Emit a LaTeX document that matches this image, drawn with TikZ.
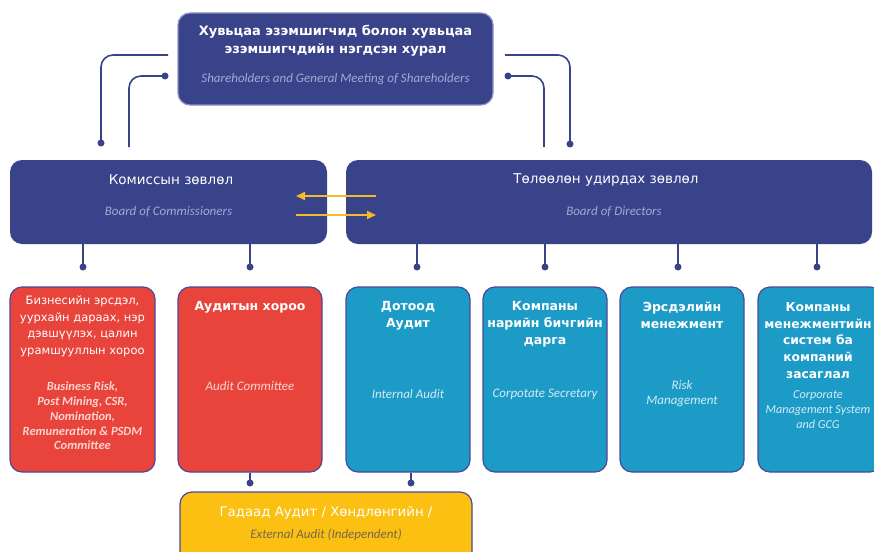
\documentclass[tikz,border=0pt]{standalone}
\usepackage{fontspec}
\setmainfont{DejaVu Sans}
\newfontfamily\engfont{Carlito}
\usetikzlibrary{arrows.meta}

\definecolor{navy}{HTML}{39438A}
\definecolor{navyedge}{HTML}{8C92C4}
\definecolor{boxedge}{HTML}{4B4996}
\definecolor{redbox}{HTML}{E9443B}
\definecolor{tealbox}{HTML}{1C9BC7}
\definecolor{yellowbox}{HTML}{FBC012}
\definecolor{arrowgold}{HTML}{F3BB2C}
\definecolor{engnavy}{HTML}{A3A9D3}
\definecolor{engred}{HTML}{FAD4D0}
\definecolor{engteal}{HTML}{D2ECF6}
\definecolor{engyellow}{HTML}{76684A}

\begin{document}
\begin{tikzpicture}[x=1pt, y=-1pt,
        panel/.style={rounded corners=12pt, inner sep=0pt},
        title/.style={text=white, align=center, inner sep=0pt, font=\bfseries\fontsize{12.5}{17}\selectfont},
        plain/.style={text=white, align=center, inner sep=0pt, font=\fontsize{13.5}{17}\selectfont},
        eng/.style={align=center, inner sep=0pt, font=\engfont\itshape\fontsize{13}{14.8}\selectfont},
        link/.style={draw=navy, line width=1.6pt, rounded corners=12pt},
        dot/.style={circle, fill=navy, inner sep=0pt, minimum size=7pt},
        flow/.style={draw=arrowgold, line width=1.8pt, -{Triangle[length=9pt, width=8pt]}}]
        \useasboundingbox (0,0) rectangle (874,551);
        \clip (0,0) rectangle (874,551);

        % shareholders
        \node[panel, fill=navy, draw=navyedge, line width=1.2pt, minimum width=315pt, minimum height=92pt] (meet) at (335.5,59) {};
        \node[title, font=\bfseries\fontsize{13}{18}\selectfont] (meetmn) at (335.5,41) {Хувьцаа эзэмшигчид болон хувьцаа\\эзэмшигчдийн нэгдсэн хурал};
        \node[eng, text=engnavy] (meeten) at (335.5,79) {Shareholders and General Meeting of Shareholders};

        % boards
        \node[panel, fill=navy, minimum width=317pt, minimum height=84pt] (comm) at (168.5,202) {};
        \node[plain] (commmn) at (171,180) {Комиссын зөвлөл};
        \node[eng, text=engnavy] (commen) at (168.5,212) {Board of Commissioners};
        \node[panel, fill=navy, minimum width=526pt, minimum height=84pt] (dir) at (609,202) {};
        \node[plain] (dirmn) at (606,180) {Төлөөлөн удирдах зөвлөл};
        \node[eng, text=engnavy] (diren) at (614,212) {Board of Directors};

        % committees and units
        \node[panel, fill=redbox, draw=boxedge, line width=1.2pt, minimum width=145pt, minimum height=185pt] (risk) at (82.5,379.5) {};
        \node[plain, font=\fontsize{11.5}{16.5}\selectfont] (riskmn) at (82.5,326.5) {Бизнесийн эрсдэл,\\уурхайн дараах, нэр\\дэвшүүлэх, цалин\\урамшууллын хороо};
        \node[eng, text=engred, font=\engfont\bfseries\itshape\fontsize{12.5}{14.8}\selectfont] (risken) at (82.5,416) {Business Risk,\\Post Mining, CSR,\\Nomination,\\Remuneration \& PSDM\\Committee};

        \node[panel, fill=redbox, draw=boxedge, line width=1.2pt, minimum width=144pt, minimum height=185pt] (audc) at (250,379.5) {};
        \node[title] (audcmn) at (250,307) {Аудитын хороо};
        \node[eng, text=engred] (audcen) at (250,386) {Audit Committee};

        \node[panel, fill=tealbox, draw=boxedge, line width=1.2pt, minimum width=124pt, minimum height=185pt] (inaud) at (408,379.5) {};
        \node[title] (inaudmn) at (408,315.5) {Дотоод\\Аудит};
        \node[eng, text=engteal] (inauden) at (408,394) {Internal Audit};

        \node[panel, fill=tealbox, draw=boxedge, line width=1.2pt, minimum width=124pt, minimum height=185pt] (secr) at (545,379.5) {};
        \node[title] (secrmn) at (545,324) {Компаны\\нарийн бичгийн\\дарга};
        \node[eng, text=engteal] (secren) at (545,394) {Corpotate Secretary};

        \node[panel, fill=tealbox, draw=boxedge, line width=1.2pt, minimum width=124pt, minimum height=185pt] (rman) at (682,379.5) {};
        \node[title] (rmanmn) at (682,315.5) {Эрсдэлийн\\менежмент};
        \node[eng, text=engteal] (rmanen) at (682,393.5) {Risk\\Management};

        \node[panel, fill=tealbox, draw=boxedge, line width=1.2pt, minimum width=124pt, minimum height=185pt] (gcg) at (820,379.5) {};
        \node[title, font=\bfseries\fontsize{12.3}{16.75}\selectfont] (gcgmn) at (818,340.5) {Компаны\\менежментийн\\систем ба\\компаний\\засаглал};
        \node[eng, text=engteal, font=\engfont\itshape\fontsize{12.2}{14.8}\selectfont] (gcgen) at (818,409.5) {Corporate\\Management System\\and GCG};

        % external audit
        \node[panel, fill=yellowbox, draw=boxedge, line width=1.2pt, minimum width=292pt, minimum height=80pt] (ext) at (326,532) {};
        \node[plain, font=\fontsize{13.3}{17}\selectfont] (extmn) at (326,513) {Гадаад Аудит / Хөндлөнгийн /};
        \node[eng, text=engyellow] (exten) at (326,535) {External Audit (Independent)};

        % links to the meeting
        \coordinate (la) at (168,55);
        \node[dot] (lad) at (101,143) {};
        \node[dot] (lbd) at (165,76) {};
        \coordinate (lb) at (129,147);
        \coordinate (ra) at (505,55);
        \node[dot] (rad) at (570,144) {};
        \node[dot] (rbd) at (508,76) {};
        \coordinate (rb) at (544,147);
        \draw[link] (la) -| (lad.center);
        \draw[link] (lbd.center) -| (lb);
        \draw[link] (ra) -| (rad.center);
        \draw[link] (rbd.center) -| (rb);

        % links from the boards
        \node[dot] (c1) at (83,267) {};
        \node[dot] (c2) at (250,267) {};
        \node[dot] (c3) at (417,267) {};
        \node[dot] (c4) at (545,267) {};
        \node[dot] (c5) at (678,267) {};
        \node[dot] (c6) at (817,267) {};
        \draw[link] (c1 |- comm.south) -- (c1.center);
        \draw[link] (c2 |- comm.south) -- (c2.center);
        \draw[link] (c3 |- dir.south) -- (c3.center);
        \draw[link] (c4 |- dir.south) -- (c4.center);
        \draw[link] (c5 |- dir.south) -- (c5.center);
        \draw[link] (c6 |- dir.south) -- (c6.center);

        % links to external audit
        \node[dot] (e1) at (250,483) {};
        \node[dot] (e2) at (411,483) {};
        \draw[link] (e1 |- audc.south) -- (e1.center);
        \draw[link] (e2 |- inaud.south) -- (e2.center);

        % between the boards
        \coordinate (f1) at (376,196);
        \coordinate (f2) at (296,196);
        \coordinate (f3) at (296,215);
        \coordinate (f4) at (376,215);
        \draw[flow] (f1) -- (f2);
        \draw[flow] (f3) -- (f4);
    \end{tikzpicture}
\end{document}
